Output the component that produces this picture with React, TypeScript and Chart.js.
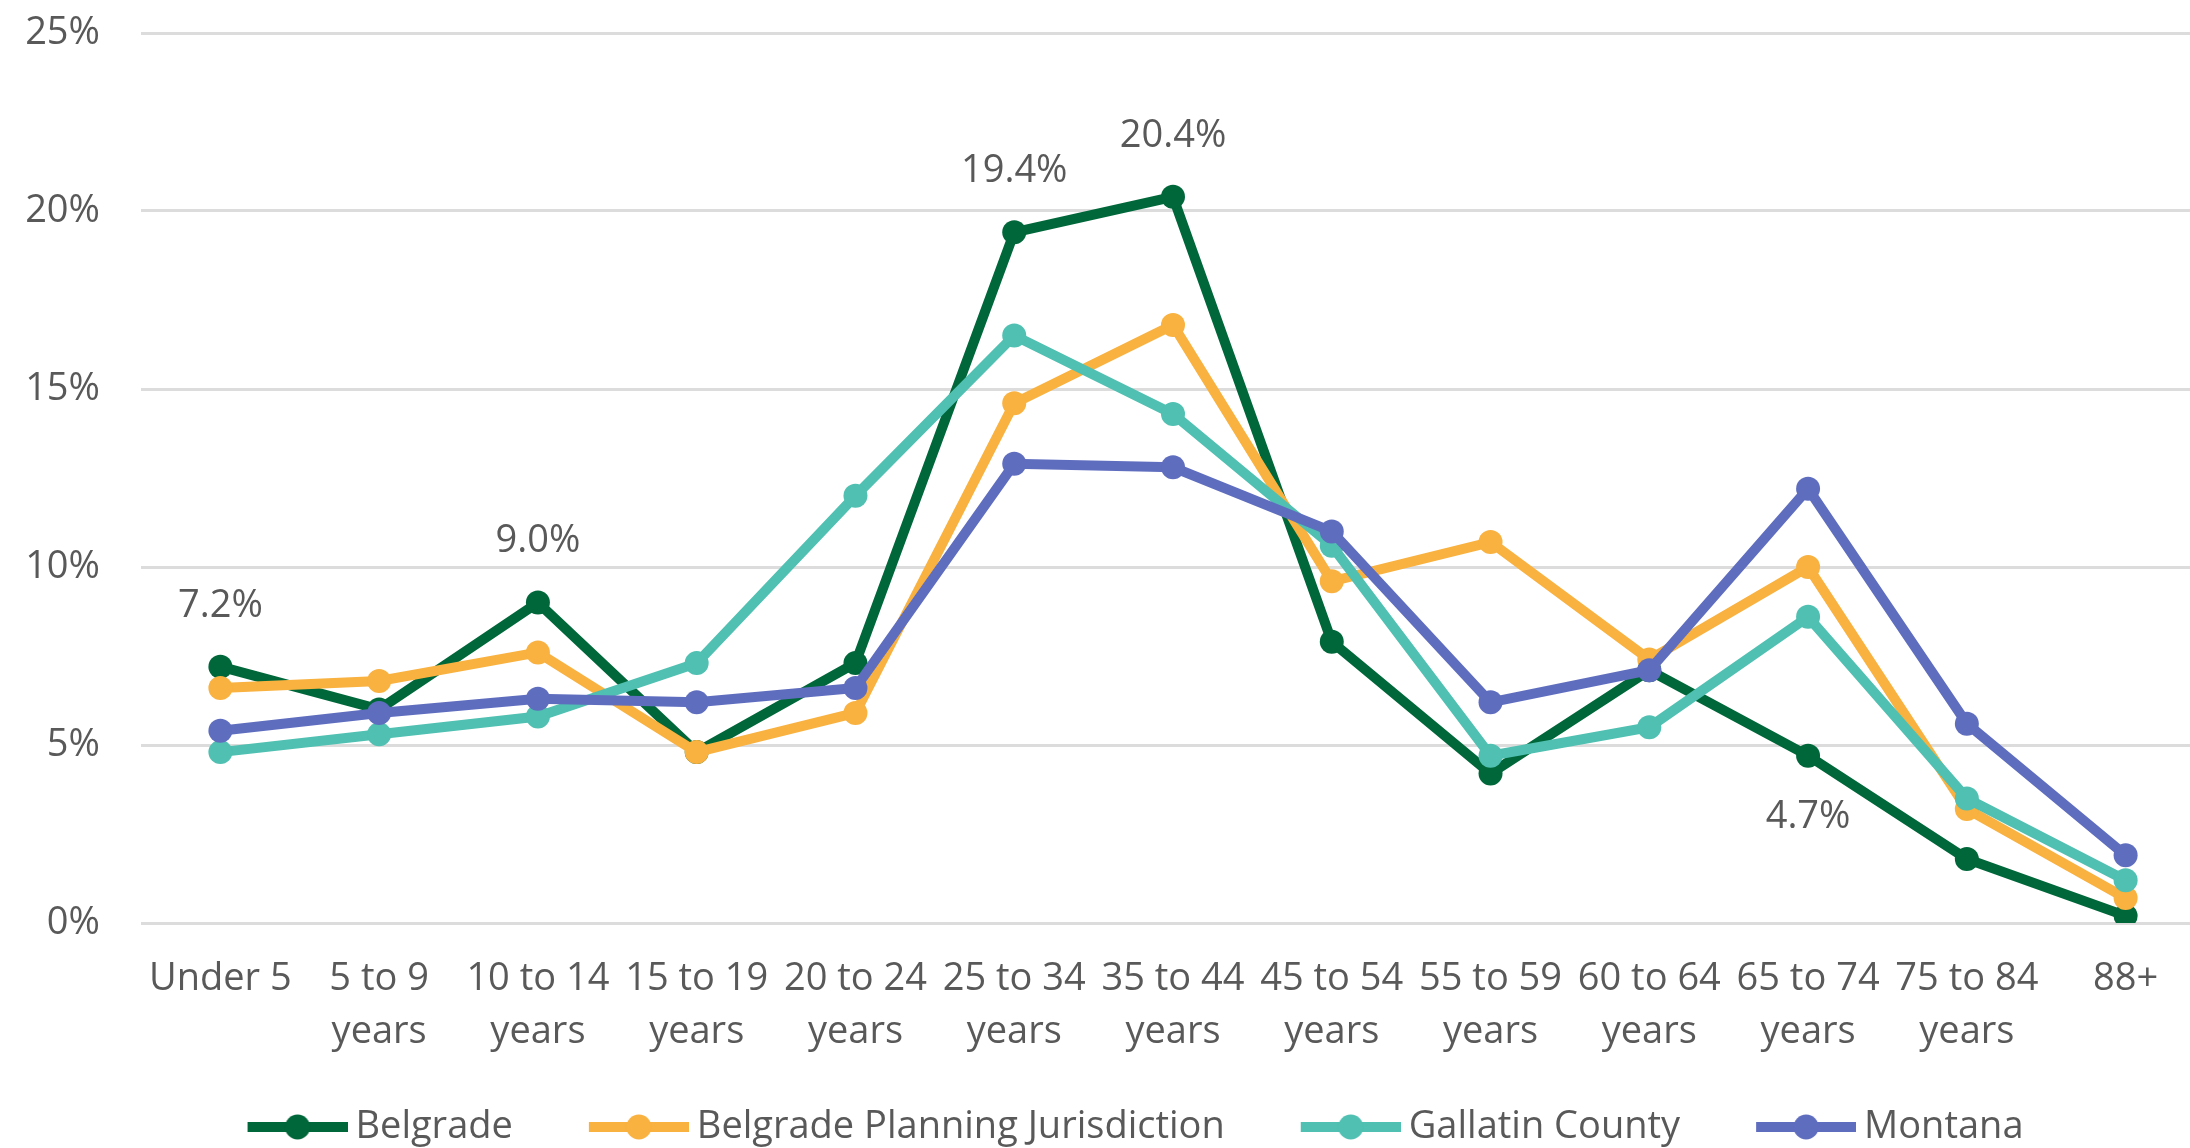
import React, { useEffect, useRef } from "react";
import { Chart, registerables } from "chart.js";

Chart.register(...registerables);

const categories: string[][] = [
  ["Under 5"],
  ["5 to 9", "years"],
  ["10 to 14", "years"],
  ["15 to 19", "years"],
  ["20 to 24", "years"],
  ["25 to 34", "years"],
  ["35 to 44", "years"],
  ["45 to 54", "years"],
  ["55 to 59", "years"],
  ["60 to 64", "years"],
  ["65 to 74", "years"],
  ["75 to 84", "years"],
  ["88+"],
];

const seriesNames = ["Belgrade", "Belgrade Planning Jurisdiction", "Gallatin County", "Montana"];
const seriesColors = ["#00673a", "#f9b13f", "#4fc0b1", "#5f6dbf"];

const belgrade = [7.2, 6.0, 9.0, 4.8, 7.3, 19.4, 20.4, 7.9, 4.2, 7.1, 4.7, 1.8, 0.2];
const planning = [6.6, 6.8, 7.6, 4.8, 5.9, 14.6, 16.8, 9.6, 10.7, 7.4, 10.0, 3.2, 0.7];
const gallatin = [4.8, 5.3, 5.8, 7.3, 12.0, 16.5, 14.3, 10.6, 4.7, 5.5, 8.6, 3.5, 1.2];
const montana = [5.4, 5.9, 6.3, 6.2, 6.6, 12.9, 12.8, 11.0, 6.2, 7.1, 12.2, 5.6, 1.9];

const yTicks = [0, 5, 10, 15, 20, 25];

// Belgrade data labels: indices shown above the point, and below the point
const labelsAbove = [0, 2, 5, 6];
const labelsBelow = [10];

const FONT = "'Open Sans', 'Noto Sans', sans-serif";
const TEXT = "#595959";
const FS = 38;

// legend marker image: transparent lead-in, then a 100px line with a dot
const MARK_W = 177;
function makeLegendMarker(color: string): HTMLCanvasElement {
  const c = document.createElement("canvas");
  c.width = MARK_W;
  c.height = 28;
  const g = c.getContext("2d")!;
  const x0 = MARK_W - 100;
  g.strokeStyle = color;
  g.lineWidth = 10;
  g.beginPath();
  g.moveTo(x0, 14);
  g.lineTo(MARK_W, 14);
  g.stroke();
  g.fillStyle = color;
  g.beginPath();
  g.arc(x0 + 50, 14, 12.5, 0, Math.PI * 2);
  g.fill();
  return c;
}

export default function App() {
  const ref = useRef<HTMLCanvasElement | null>(null);

  useEffect(() => {
    if (!ref.current) return;
    const markers = seriesColors.map(makeLegendMarker);
    const all = [belgrade, planning, gallatin, montana];

    const dataLabelPlugin = {
      id: "belgradeLabels",
      afterDatasetsDraw(chart: any) {
        const meta = chart.getDatasetMeta(0);
        const ctx = chart.ctx;
        ctx.save();
        ctx.font = `${FS}px ${FONT}`;
        ctx.fillStyle = TEXT;
        ctx.textAlign = "center";
        ctx.textBaseline = "middle";
        labelsAbove.forEach((i) => {
          const p = meta.data[i];
          ctx.fillText(`${belgrade[i].toFixed(1)}%`, p.x, p.y - 61);
        });
        labelsBelow.forEach((i) => {
          const p = meta.data[i];
          ctx.fillText(`${belgrade[i].toFixed(1)}%`, p.x, p.y + 61);
        });
        ctx.restore();
      },
    };

    const chart = new Chart(ref.current, {
      type: "line",
      data: {
        labels: categories,
        datasets: all.map((d, k) => ({
          label: seriesNames[k],
          data: d,
          borderColor: seriesColors[k],
          backgroundColor: seriesColors[k],
          pointBackgroundColor: seriesColors[k],
          pointBorderColor: seriesColors[k],
          borderWidth: 10,
          pointRadius: 12,
          pointBorderWidth: 0,
          tension: 0,
          order: 4 - k,
        })),
      },
      options: {
        animation: false,
        responsive: true,
        maintainAspectRatio: false,
        layout: { padding: { top: 33, left: 0, right: 63, bottom: 0 } },
        plugins: {
          tooltip: { enabled: false },
          legend: {
            position: "bottom",
            labels: {
              usePointStyle: true,
              pointStyleWidth: 155,
              padding: 10,
              color: TEXT,
              font: { family: FONT, size: FS },
              sort: (a: any, b: any) => a.datasetIndex - b.datasetIndex,
              generateLabels: (c: any) => {
                const items = (Chart as any).defaults.plugins.legend.labels.generateLabels(c);
                return items.map((it: any) => ({ ...it, pointStyle: markers[it.datasetIndex] }));
              },
            },
          },
        },
        scales: {
          x: {
            type: "category",
            offset: true,
            grid: { display: false, drawTicks: false },
            border: { display: false },
            ticks: {
              color: TEXT,
              font: { family: FONT, size: FS, lineHeight: 1.395 },
              padding: 30,
              maxRotation: 0,
              autoSkip: false,
            },
            afterFit: (s: any) => {
              s.height = 175;
            },
          },
          y: {
            min: yTicks[0],
            max: yTicks[yTicks.length - 1],
            grid: { color: "#dcdcdc", lineWidth: 3, drawTicks: false },
            border: { display: false },
            ticks: {
              stepSize: 5,
              color: TEXT,
              font: { family: FONT, size: FS },
              padding: 41,
              callback: (v: any) => `${v}%`,
            },
            afterFit: (s: any) => {
              s.width = 141;
              s.paddingTop = 0;
              s.paddingBottom = 0;
            },
          },
        },
      },
      plugins: [dataLabelPlugin],
    });
    return () => chart.destroy();
  }, []);

  return (
    <div
      style={{
        position: "absolute",
        left: 0,
        top: 0,
        width: 2190,
        height: 1148,
        overflow: "hidden",
        background: "#fff",
      }}
    >
      <div style={{ position: "relative", width: 2268, height: 1156 }}>
        <canvas ref={ref} />
      </div>
    </div>
  );
}
